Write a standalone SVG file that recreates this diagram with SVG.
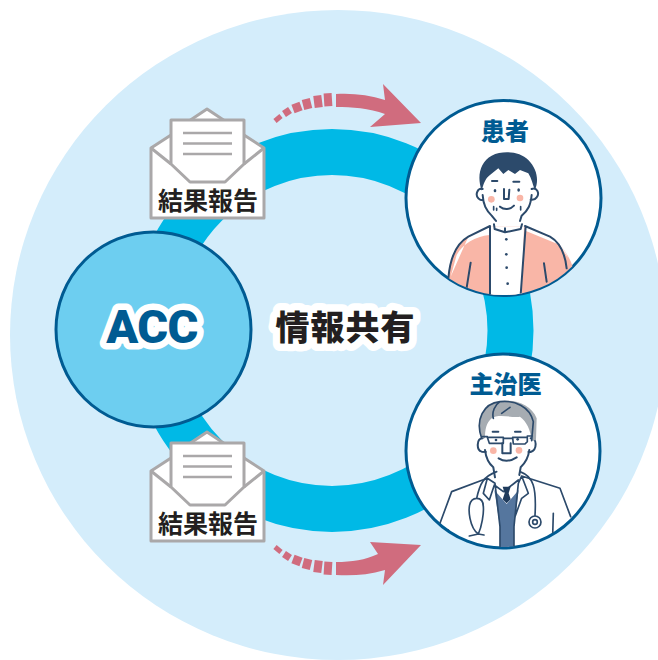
<svg xmlns="http://www.w3.org/2000/svg" width="658" height="660" viewBox="0 0 658 660">
<style>
.cjk{font-family:"Noto Sans CJK JP","Noto Sans CJK SC",sans-serif;font-weight:900;text-anchor:middle}
.head{fill:#005b92;font-size:24px}
.report{fill:#231f20;font-size:25px;font-weight:700}
.ring{fill:#fff;stroke:#005b92;stroke-width:3}
.ink{fill:none;stroke:#2c4a6b;stroke-width:6;stroke-linecap:round;stroke-linejoin:round}
.thin{stroke-width:5}
.env{fill:#fff;stroke:#aaa8a9;stroke-width:3;stroke-linejoin:round}
.rule{stroke:#aaa8a9;stroke-width:2.6}
.halo{paint-order:stroke;stroke:#fff;stroke-linejoin:round}
.dash{fill:none;stroke:#d06c7e}
.arrow{fill:#d06c7e}
</style>
<defs>
<clipPath id="clipPatient"><circle cx="503.5" cy="198" r="97"/></clipPath>
<clipPath id="clipDoctor"><circle cx="503" cy="451" r="96"/></clipPath>
<g id="envelope">
<path class="env" d="M-1 -82 L-22 -68 H20 Z"/>
<path class="env" d="M-57 -43 L-37 -56 H36 L56 -43 V27 H-57 Z"/>
<path class="env" d="M-37 -71 H36 V-27 L17 -9 H-18 L-37 -27 Z"/>
<path class="env" style="fill:none" d="M-57 -43 L-37 -27 M56 -43 L36 -27"/>
<path class="rule" d="M-25 -58 H24 M-25 -47.500 H24 M-25 -37 H24"/>
</g>
</defs>

<ellipse id="backdrop" cx="338" cy="335" rx="328" ry="325" fill="#d4edfb"/>

<g id="connectors">
<circle cx="332" cy="330.500" r="178.500" fill="none" stroke="#00b9e6" stroke-width="46"/>
<g class="dash">
<path stroke-width="5" d="M275 121 L281 116"/>
<path stroke-width="7" d="M284 114 L290 110"/>
<path stroke-width="9" d="M293 109 L301 106"/>
<path stroke-width="10.500" d="M303 105 L311 103"/>
<path stroke-width="12" d="M314 102 L322 101"/>
<path stroke-width="13" d="M324 100 L332 99.500"/>
</g>
<path class="arrow" d="M336 94 C353 93 369 95 385 100 L383 84 L421 123 L370 127 L385 114 C369 108 352 107 336 107 Z"/>
<g class="dash">
<path stroke-width="5" d="M275 547 L281 552"/>
<path stroke-width="7" d="M284 554 L290 558"/>
<path stroke-width="9" d="M293 559 L301 562"/>
<path stroke-width="10.500" d="M303 563 L311 565"/>
<path stroke-width="12" d="M314 566 L322 567"/>
<path stroke-width="13" d="M324 568 L332 568.500"/>
</g>
<path class="arrow" d="M336 562 C352 562 365 560 378 554 L370 542 L421 545 L383 585 L385 570 C368 575 352 576 336 575 Z"/>
</g>

<g id="acc">
<circle cx="153.500" cy="329.500" r="97.500" fill="#6dcef0" stroke="#005b92" stroke-width="3"/>
<text class="halo" x="152" y="342.500" text-anchor="middle" font-family="Roboto,'Liberation Sans',sans-serif" font-weight="900" font-size="47" letter-spacing="-.5" fill="#005b92" stroke-width="13">ACC</text>
</g>

<g id="share">
<text class="cjk halo" x="345.500" y="340" font-size="34" letter-spacing="1" fill="#231f20" stroke-width="15">情報共有</text>
</g>

<g id="patient">
<circle class="ring" cx="503.500" cy="198" r="97.500"/>
<text class="cjk head" x="505" y="140">患者</text>
<g clip-path="url(#clipPatient)">
<g transform="translate(400 95) scale(.3333)">
<path d="M145 560 C150 490 165 450 205 425 L270 395 H375 L450 425 C490 450 510 490 520 520 L470 640 H170 Z" fill="#f9b6a7"/>
<path d="M272 395 H372 L365 610 H272 Z" fill="#fff"/>
<path d="M205 425 L270 395 L268 420 C225 425 190 445 170 480 L152 545 Z M375 395 L450 425 C480 442 495 465 505 490 L480 450 L378 408 Z" fill="#fff"/>
<path class="ink" d="M145 550 C150 490 170 445 205 425 L270 393 M375 393 L450 425 C480 442 495 475 500 520 M270 395 V600 M377 395 L362 600 M212 503 L200 578 M432 505 L440 560"/>
<path class="ink" d="M282 388 L284 402 L315 412 L362 402 L366 388 M315 412 V400"/>
<path d="M248 262 C245 310 255 345 275 362 C295 380 345 385 365 362 C388 345 397 310 395 262 L360 225 H280 Z" fill="#fff"/>
<path class="ink" d="M248 300 C250 330 258 345 275 362 L288 378 M395 300 C392 330 385 345 365 362 L360 378 M248 282 C232 278 225 300 235 310 C240 316 248 316 250 316 M395 282 C410 275 420 295 410 307 C406 313 398 315 392 314"/>
<path d="M245 287 C230 245 240 200 275 182 C310 165 360 170 385 195 C410 220 418 255 405 285 C398 270 395 250 385 235 L360 225 L345 237 L325 225 L310 237 L295 220 L270 240 C255 250 250 270 245 287 Z" fill="#2c4a6b"/>
<path class="ink" d="M312 282 L312 312 H326 L328 284 M300 335 C312 345 330 345 342 332 M276 258 H292 M340 260 H358"/>
<ellipse cx="285" cy="287" rx="4" ry="5" fill="#2c4a6b"/><ellipse cx="356" cy="285" rx="4" ry="5" fill="#2c4a6b"/>
<circle cx="274" cy="313" r="10" fill="#f9b6a7"/><circle cx="360" cy="309" r="10" fill="#f9b6a7"/>
<path class="ink thin" d="M281 335 V345 M290 340 V346 M362 335 V345"/>
<circle cx="319" cy="433" r="4" fill="#2c4a6b"/><circle cx="319" cy="478" r="4" fill="#2c4a6b"/><circle cx="320" cy="518" r="4" fill="#2c4a6b"/><circle cx="323" cy="566" r="4" fill="#2c4a6b"/>
</g>
</g>
</g>

<g id="doctor">
<circle class="ring" cx="503" cy="451" r="97"/>
<text class="cjk head" x="505.500" y="393">主治医</text>
<g clip-path="url(#clipDoctor)">
<g transform="translate(400 350) scale(.3333)">
<path d="M283 420 L320 462 L356 420 L342 530 V610 H300 V530 Z" fill="#55769e"/>
<path class="ink thin" d="M120 520 L155 425 L262 385 L285 400 L300 530 M512 500 L480 415 L365 378 L355 400 L342 530 M262 385 L250 430 L268 450 L283 405 M365 378 L385 430 L365 445 L345 500 M283 405 L310 425 L340 402 L355 390 M300 530 L300 610 M342 530 L342 610 M145 540 L130 590 M460 490 L458 560"/>
<path d="M308 410 H332 L326 430 L332 448 L320 460 L308 448 L314 430 Z" fill="#1f3b5c"/>
<path class="ink thin" d="M230 445 C240 400 250 380 290 365 M230 445 C205 445 205 480 210 505 C215 530 225 545 235 552 C245 530 252 490 250 470 C250 455 245 445 230 445 M235 552 L208 558 M235 552 L252 555 M360 365 C400 380 410 410 405 497"/>
<circle cx="405" cy="516" r="18" fill="#fff" stroke="#2c4a6b" stroke-width="5"/><circle cx="405" cy="516" r="7" fill="none" stroke="#2c4a6b" stroke-width="5"/>
<path d="M250 250 C248 300 258 335 275 350 C300 372 340 372 365 350 C385 335 392 300 390 250 L330 195 L270 220 Z" fill="#fff"/>
<path class="ink" d="M255 300 C258 325 265 340 280 352 L285 382 M388 300 C385 325 375 340 362 352 L358 375 M248 265 C230 265 228 300 245 305 L258 306 M392 265 C412 262 412 300 392 306 L385 306"/>
<path d="M245 265 C225 210 250 160 300 155 C345 145 395 165 410 205 L408 270 L395 272 C392 240 380 215 360 200 C340 205 295 190 275 205 C258 220 255 240 255 265 Z" fill="#a6acb2"/>
<path class="ink thin" d="M245 265 C225 210 250 160 300 155 C345 150 390 170 400 215 L395 272 M280 205 C275 185 285 165 300 155 M305 190 L330 172"/>
<path class="ink thin" d="M262 262 H310 V280 H268 Z M338 262 H382 V275 L375 282 H340 Z M310 265 H338 M248 260 H262 M382 258 H395"/>
<path class="ink" d="M278 245 H295 M345 245 H362 M307 280 V310 H332 V280 M296 325 C312 335 330 335 350 322"/>
<circle cx="288" cy="270" r="4" fill="#2c4a6b"/><circle cx="353" cy="268" r="4" fill="#2c4a6b"/>
<circle cx="280" cy="302" r="10" fill="#f9b6a7"/><circle cx="357" cy="301" r="10" fill="#f9b6a7"/>
</g>
</g>
</g>

<g id="report-top" transform="translate(208 191)">
<use href="#envelope"/>
<text class="cjk report" x="0" y="18.500">結果報告</text>
</g>

<g id="report-bottom" transform="translate(208 514)">
<use href="#envelope"/>
<text class="cjk report" x="0" y="18.500">結果報告</text>
</g>
</svg>
